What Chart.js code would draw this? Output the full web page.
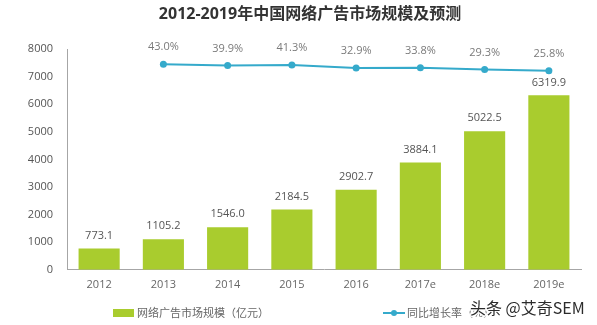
<!DOCTYPE html>
<html>
<head>
<meta charset="utf-8">
<script src="https://cdn.jsdelivr.net/npm/chart.js@4.4.1/dist/chart.umd.min.js"></script>
<style>
  html, body { margin: 0; padding: 0; background: #ffffff; }
  #c { display: block; }
</style>
</head>
<body>
<canvas id="c" width="597" height="325"></canvas>
<script>
// Chart data
const years = ['2012', '2013', '2014', '2015', '2016', '2017e', '2018e', '2019e'];
const marketSize = [773.1, 1105.2, 1546.0, 2184.5, 2902.7, 3884.1, 5022.5, 6319.9];
const growthRate = [null, 43.0, 39.9, 41.3, 32.9, 33.8, 29.3, 25.8];
const sizeTicks = [0, 1000, 2000, 3000, 4000, 5000, 6000, 7000, 8000];

// Texts
const chartTitle = '2012-2019年中国网络广告市场规模及预测';
const sizeLabel = '网络广告市场规模（亿元）';
const growthLabel = '同比增长率（%）';
const credit = '头条 @艾奇SEM';

const FONT = "'Open Sans', 'Noto Sans CJK SC', sans-serif";
const CJK = "'Noto Sans CJK SC', 'Open Sans', sans-serif";
const GREEN = '#a9cc2e';
const BLUE = '#35aacb';
const AXIS = '#a6a6a6';

// Title, value labels, legend and credit line drawn on top of the chart
const decorations = {
  id: 'decorations',
  afterDatasetsDraw(chart) {
    const ctx = chart.ctx;
    ctx.save();
    ctx.textAlign = 'center';
    ctx.textBaseline = 'middle';

    // bar values
    ctx.font = '11px ' + FONT;
    ctx.fillStyle = '#555555';
    chart.getDatasetMeta(0).data.forEach((bar, i) => {
      ctx.fillText(marketSize[i].toFixed(1), bar.x, bar.y - 13);
    });

    // growth values
    ctx.fillStyle = '#7a7a7a';
    chart.getDatasetMeta(1).data.forEach((pt, i) => {
      if (growthRate[i] == null) return;
      ctx.fillText(growthRate[i].toFixed(1) + '%', pt.x, pt.y - 17);
    });
    ctx.restore();
  },
  afterDraw(chart) {
    const ctx = chart.ctx;
    ctx.save();
    ctx.textBaseline = 'middle';

    // title
    ctx.textAlign = 'center';
    ctx.font = 'bold 16px ' + FONT;
    ctx.fillStyle = '#333333';
    ctx.fillText(chartTitle, 310, 14);

    // legend: bar series
    const ly = 313;
    ctx.textAlign = 'left';
    ctx.fillStyle = GREEN;
    ctx.fillRect(113, ly - 4, 21, 8);
    ctx.font = '11px ' + CJK;
    ctx.fillStyle = '#666666';
    ctx.fillText(chart.data.datasets[0].label, 137, ly);

    // legend: line series
    ctx.strokeStyle = BLUE;
    ctx.lineWidth = 2;
    ctx.beginPath();
    ctx.moveTo(383, ly);
    ctx.lineTo(405, ly);
    ctx.stroke();
    ctx.fillStyle = BLUE;
    ctx.beginPath();
    ctx.arc(394, ly, 3, 0, Math.PI * 2);
    ctx.fill();
    ctx.fillStyle = '#666666';
    ctx.fillText(chart.data.datasets[1].label, 407, ly);

    // credit line
    ctx.font = '16px ' + CJK;
    ctx.lineWidth = 3;
    ctx.strokeStyle = 'rgba(255,255,255,0.9)';
    ctx.strokeText(credit, 470, 308);
    ctx.fillStyle = '#2b2b2b';
    ctx.fillText(credit, 470, 308);
    ctx.restore();
  }
};

new Chart(document.getElementById('c'), {
  type: 'bar',
  data: {
    labels: years,
    datasets: [
      {
        type: 'bar',
        label: sizeLabel,
        data: marketSize,
        backgroundColor: GREEN,
        borderWidth: 0,
        barPercentage: 0.64,
        categoryPercentage: 1.0,
        yAxisID: 'y',
        order: 2
      },
      {
        type: 'line',
        label: growthLabel,
        data: growthRate,
        borderColor: BLUE,
        backgroundColor: BLUE,
        borderWidth: 2,
        pointRadius: 3.5,
        pointBackgroundColor: BLUE,
        pointBorderWidth: 0,
        tension: 0,
        spanGaps: false,
        yAxisID: 'y2',
        order: 1
      }
    ]
  },
  options: {
    responsive: false,
    animation: false,
    devicePixelRatio: 1,
    layout: { padding: { top: 49, right: 16, bottom: 26, left: 0 } },
    plugins: {
      legend: { display: false },
      title: { display: false },
      tooltip: { enabled: false }
    },
    scales: {
      x: {
        grid: { display: false, drawTicks: false },
        border: { display: true, color: AXIS, width: 1 },
        ticks: { color: '#666666', font: { family: FONT, size: 11 }, padding: 8 }
      },
      y: {
        min: 0,
        max: 8000,
        afterBuildTicks(scale) { scale.ticks = sizeTicks.map(v => ({ value: v })); },
        afterFit(scale) { scale.width = 67; },
        grid: { display: false, drawTicks: false },
        border: { display: true, color: AXIS, width: 1 },
        ticks: {
          color: '#555555',
          font: { family: FONT, size: 11 },
          padding: 14,
          callback: (v) => String(v)
        }
      },
      y2: {
        display: false,
        position: 'right',
        min: -506,
        max: 84
      }
    }
  },
  plugins: [decorations]
});
</script>
</body>
</html>
